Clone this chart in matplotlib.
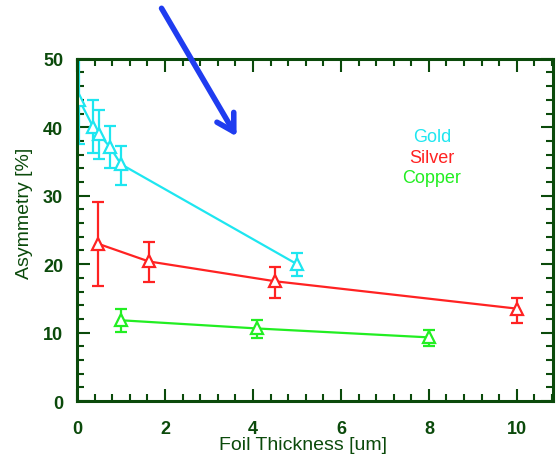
import matplotlib.pyplot as plt
from matplotlib.ticker import MultipleLocator

# data
gold_x = [0.05, 0.37, 0.5, 0.75, 1.0, 5.0]
gold_y = [44.0, 40.0, 39.0, 37.1, 34.6, 20.0]
gold_lo = [37.5, 36.3, 35.3, 34.0, 31.6, 18.2]
gold_hi = [50.5, 44.0, 42.5, 40.2, 37.3, 21.6]

silver_x = [0.47, 1.63, 4.5, 10.0]
silver_y = [23.0, 20.4, 17.5, 13.5]
silver_lo = [16.8, 17.4, 15.1, 11.4]
silver_hi = [29.1, 23.3, 19.6, 15.1]

copper_x = [1.0, 4.1, 8.0]
copper_y = [11.8, 10.6, 9.3]
copper_lo = [10.1, 9.2, 8.1]
copper_hi = [13.4, 11.8, 10.4]

names = ['Gold', 'Silver', 'Copper']
colors = ['#1ee6f0', '#ff2222', '#22ee22']
dark = '#0b4a0b'

plt.rcParams['font.family'] = ['Liberation Sans', 'DejaVu Sans']

fig = plt.figure(figsize=(5.56, 4.6), dpi=100)
ax = fig.add_axes([0.1385, 0.126, 0.856, 0.744])

series = [(gold_x, gold_y, gold_lo, gold_hi),
          (silver_x, silver_y, silver_lo, silver_hi),
          (copper_x, copper_y, copper_lo, copper_hi)]
for (xs, ys, lo, hi), c in zip(series, colors):
    err = [[y - l for y, l in zip(ys, lo)], [h - y for y, h in zip(ys, hi)]]
    ax.errorbar(xs, ys, yerr=err, color=c, lw=1.6, elinewidth=1.6, capsize=4.5,
                capthick=1.6, marker='^', ms=8, mfc='white', mec=c, mew=1.6)

ax.set_xlim(0, 10.82)
ax.set_ylim(0, 50)
ax.xaxis.set_major_locator(MultipleLocator(2))
ax.xaxis.set_minor_locator(MultipleLocator(0.4))
ax.yaxis.set_major_locator(MultipleLocator(10))
ax.yaxis.set_minor_locator(MultipleLocator(2))
ax.tick_params(which='both', direction='in', top=True, right=True, color=dark,
               labelcolor=dark, labelsize=13, width=1.5)
ax.tick_params(which='major', length=9)
ax.tick_params(axis='x', which='major', pad=14)
ax.tick_params(axis='y', which='major', pad=10)
ax.tick_params(which='minor', length=5)
for lab in ax.get_xticklabels() + ax.get_yticklabels():
    lab.set_fontweight('bold')
for s in ax.spines.values():
    s.set_color(dark)
    s.set_linewidth(2.2)

ax.set_xlabel('Foil Thickness [um]', color=dark, fontsize=14)
ax.set_ylabel('Asymmetry [%]', color=dark, fontsize=14)
ax.xaxis.set_label_coords(0.475, -0.103)
ax.yaxis.set_label_coords(-0.092, 0.55)

for i, (n, c) in enumerate(zip(names, colors)):
    ax.text(0.746, 0.772 - i * 0.059, n, color=c, fontsize=13,
            ha='center', va='center', transform=ax.transAxes)

ax.annotate('', xy=(0.428, 0.696), xytext=(0.288, 0.985),
            xycoords='figure fraction', textcoords='figure fraction',
            arrowprops=dict(arrowstyle='->,head_length=1.2,head_width=0.7',
                            color='#1f3cf0', lw=4))

fig.savefig('out.png', dpi=100)
